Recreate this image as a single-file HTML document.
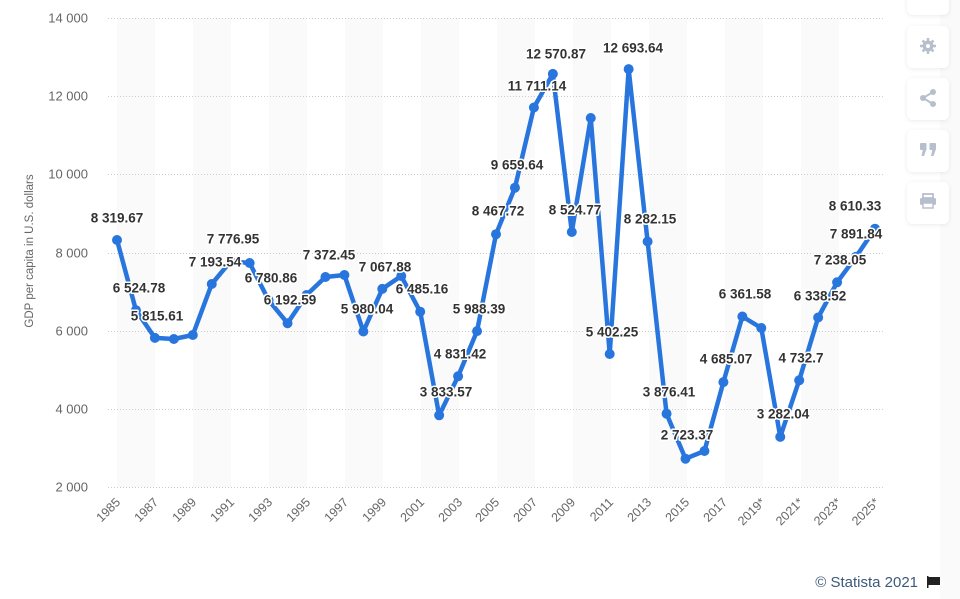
<!DOCTYPE html>
<html><head><meta charset="utf-8"><style>
html,body{margin:0;padding:0;background:#fff;width:960px;height:599px;overflow:hidden}
svg{display:block;font-family:"Liberation Sans",Arial,sans-serif}
.lb{font-size:13.5px;font-weight:bold;fill:#333;stroke:#fff;stroke-width:3px;paint-order:stroke;stroke-linejoin:round;text-anchor:middle;dominant-baseline:central}
.yt{font-size:13px;fill:#666;text-anchor:end;dominant-baseline:central}
.xt{font-size:12.5px;fill:#666;text-anchor:end}
</style></head><body>
<svg width="960" height="599" viewBox="0 0 960 599">
<rect x="940" y="0" width="20" height="599" fill="#fafafb"/>
<g fill="#fafafa">
<rect x="117" y="18" width="38" height="469"/><rect x="193" y="18" width="38" height="469"/><rect x="269" y="18" width="38" height="469"/><rect x="345" y="18" width="38" height="469"/><rect x="421" y="18" width="38" height="469"/><rect x="497" y="18" width="38" height="469"/><rect x="573" y="18" width="38" height="469"/><rect x="649" y="18" width="38" height="469"/><rect x="725" y="18" width="38" height="469"/><rect x="801" y="18" width="38" height="469"/>
</g>
<g stroke="#ccc" stroke-width="1" stroke-dasharray="1,2">
<line x1="108" x2="885" y1="18.5" y2="18.5"/><line x1="108" x2="885" y1="96.5" y2="96.5"/><line x1="108" x2="885" y1="174.5" y2="174.5"/><line x1="108" x2="885" y1="253.5" y2="253.5"/><line x1="108" x2="885" y1="331.5" y2="331.5"/><line x1="108" x2="885" y1="409.5" y2="409.5"/><line x1="108" x2="885" y1="487.5" y2="487.5"/>
</g>
<g class="yt">
<text x="88" y="18">14 000</text><text x="88" y="96">12 000</text><text x="88" y="174">10 000</text><text x="88" y="253">8 000</text><text x="88" y="331">6 000</text><text x="88" y="409">4 000</text><text x="88" y="487">2 000</text>
</g>
<text transform="translate(33,251) rotate(-90)" font-size="11.5" fill="#666" text-anchor="middle">GDP per capita in U.S. dollars</text>
<g class="xt">
<text transform="translate(121,503) rotate(-45)">1985</text>
<text transform="translate(159,503) rotate(-45)">1987</text>
<text transform="translate(197,503) rotate(-45)">1989</text>
<text transform="translate(235,503) rotate(-45)">1991</text>
<text transform="translate(273,503) rotate(-45)">1993</text>
<text transform="translate(311,503) rotate(-45)">1995</text>
<text transform="translate(349,503) rotate(-45)">1997</text>
<text transform="translate(387,503) rotate(-45)">1999</text>
<text transform="translate(425,503) rotate(-45)">2001</text>
<text transform="translate(463,503) rotate(-45)">2003</text>
<text transform="translate(500,503) rotate(-45)">2005</text>
<text transform="translate(538,503) rotate(-45)">2007</text>
<text transform="translate(576,503) rotate(-45)">2009</text>
<text transform="translate(614,503) rotate(-45)">2011</text>
<text transform="translate(652,503) rotate(-45)">2013</text>
<text transform="translate(690,503) rotate(-45)">2015</text>
<text transform="translate(728,503) rotate(-45)">2017</text>
<text transform="translate(766,503) rotate(-45)">2019*</text>
<text transform="translate(804,503) rotate(-45)">2021*</text>
<text transform="translate(842,503) rotate(-45)">2023*</text>
<text transform="translate(880,503) rotate(-45)">2025*</text>
</g>
<polyline fill="none" stroke="#2876dd" stroke-width="4.5" stroke-linejoin="round" points="117,240 135.95,310.2 154.9,337.9 173.85,339 192.8,335 211.75,284 230.7,261.2 249.65,263 268.6,300.2 287.55,323.2 306.5,295 325.45,277 344.4,275 363.35,331.5 382.3,288.9 401.25,276 420.2,311.7 439.15,415.3 458.1,376.3 477.05,331.1 496,234.2 514.95,187.7 533.9,107.5 552.85,73.9 571.8,232 590.75,118 609.7,354 628.65,69.1 647.6,241.5 666.55,413.7 685.5,458.7 704.45,451 723.4,382.1 742.35,316.5 761.3,328 780.25,436.9 799.2,380.3 818.15,317.5 837.1,282.3 856.05,256.7 875,228.7"/>
<g fill="#2876dd">
<circle cx="117" cy="240" r="5"/><circle cx="135.95" cy="310.2" r="5"/><circle cx="154.9" cy="337.9" r="5"/><circle cx="173.85" cy="339" r="5"/><circle cx="192.8" cy="335" r="5"/><circle cx="211.75" cy="284" r="5"/><circle cx="230.7" cy="261.2" r="5"/><circle cx="249.65" cy="263" r="5"/><circle cx="268.6" cy="300.2" r="5"/><circle cx="287.55" cy="323.2" r="5"/><circle cx="306.5" cy="295" r="5"/><circle cx="325.45" cy="277" r="5"/><circle cx="344.4" cy="275" r="5"/><circle cx="363.35" cy="331.5" r="5"/><circle cx="382.3" cy="288.9" r="5"/><circle cx="401.25" cy="276" r="5"/><circle cx="420.2" cy="311.7" r="5"/><circle cx="439.15" cy="415.3" r="5"/><circle cx="458.1" cy="376.3" r="5"/><circle cx="477.05" cy="331.1" r="5"/><circle cx="496" cy="234.2" r="5"/><circle cx="514.95" cy="187.7" r="5"/><circle cx="533.9" cy="107.5" r="5"/><circle cx="552.85" cy="73.9" r="5"/><circle cx="571.8" cy="232" r="5"/><circle cx="590.75" cy="118" r="5"/><circle cx="609.7" cy="354" r="5"/><circle cx="628.65" cy="69.1" r="5"/><circle cx="647.6" cy="241.5" r="5"/><circle cx="666.55" cy="413.7" r="5"/><circle cx="685.5" cy="458.7" r="5"/><circle cx="704.45" cy="451" r="5"/><circle cx="723.4" cy="382.1" r="5"/><circle cx="742.35" cy="316.5" r="5"/><circle cx="761.3" cy="328" r="5"/><circle cx="780.25" cy="436.9" r="5"/><circle cx="799.2" cy="380.3" r="5"/><circle cx="818.15" cy="317.5" r="5"/><circle cx="837.1" cy="282.3" r="5"/><circle cx="856.05" cy="256.7" r="5"/><circle cx="875" cy="228.7" r="5"/>
</g>
<g class="lb">
<text x="117" y="218">8 319.67</text>
<text x="139" y="288">6 524.78</text>
<text x="157" y="316">5 815.61</text>
<text x="215" y="262">7 193.54</text>
<text x="233" y="239">7 776.95</text>
<text x="271" y="278">6 780.86</text>
<text x="290" y="300">6 192.59</text>
<text x="329" y="255">7 372.45</text>
<text x="367" y="309">5 980.04</text>
<text x="385" y="267">7 067.88</text>
<text x="422" y="289">6 485.16</text>
<text x="446" y="392">3 833.57</text>
<text x="460" y="354">4 831.42</text>
<text x="479" y="309">5 988.39</text>
<text x="498" y="211">8 467.72</text>
<text x="517" y="165">9 659.64</text>
<text x="537" y="86">11 711.14</text>
<text x="556" y="54">12 570.87</text>
<text x="575" y="210">8 524.77</text>
<text x="612" y="332">5 402.25</text>
<text x="633" y="48">12 693.64</text>
<text x="650" y="219">8 282.15</text>
<text x="669" y="392">3 876.41</text>
<text x="687" y="435">2 723.37</text>
<text x="726" y="359">4 685.07</text>
<text x="745" y="294">6 361.58</text>
<text x="783" y="414">3 282.04</text>
<text x="801" y="358">4 732.7</text>
<text x="820" y="296">6 338.52</text>
<text x="840" y="260">7 238.05</text>
<text x="856" y="234">7 891.84</text>
<text x="855" y="206">8 610.33</text>
</g>
<defs><filter id="sh" x="-30%" y="-30%" width="160%" height="160%"><feDropShadow dx="0" dy="1" stdDeviation="2" flood-color="#000" flood-opacity="0.08"/></filter></defs>
<g fill="#fff" filter="url(#sh)">
<rect x="907" y="-27" width="42" height="42" rx="6"/>
<rect x="907" y="26" width="42" height="42" rx="6"/>
<rect x="907" y="78" width="42" height="42" rx="6"/>
<rect x="907" y="130" width="42" height="42" rx="6"/>
<rect x="907" y="182" width="42" height="42" rx="6"/>
</g>
<g fill="#b8bfcc" stroke="none">
<circle cx="928" cy="46" r="5.5"/>
<g stroke="#b8bfcc" stroke-width="2.5"><line x1="928" y1="38" x2="928" y2="54"/><line x1="920" y1="46" x2="936" y2="46"/><line x1="922.5" y1="40.5" x2="933.5" y2="51.5"/><line x1="933.5" y1="40.5" x2="922.5" y2="51.5"/></g>
<circle cx="928" cy="46" r="2" fill="#fff"/>
<circle cx="933" cy="92" r="3"/><circle cx="923" cy="98" r="3"/><circle cx="933" cy="104" r="3"/>
<path d="M933 92 L923 98 L933 104" stroke="#b8bfcc" stroke-width="2" fill="none"/>
<rect x="920" y="143" width="6.5" height="7" rx="1"/><rect x="929.5" y="143" width="6.5" height="7" rx="1"/>
<path d="M923 149 L926.5 149 L924 156 L921.5 156 Z"/><path d="M932.5 149 L936 149 L933.5 156 L931 156 Z"/>
<rect x="923" y="194" width="10" height="4" fill="none" stroke="#b8bfcc" stroke-width="1.8"/>
<rect x="920" y="198" width="16" height="7" rx="1.5"/>
<rect x="923" y="203" width="10" height="5" fill="#fff" stroke="#b8bfcc" stroke-width="1.5"/>
</g>
<text x="918" y="587" text-anchor="end" font-size="15" fill="#3d5a78">© Statista 2021</text>
<rect x="927" y="576" width="1.5" height="12" fill="#222"/>
<path d="M928.5 577 L940 577 L940 585 L928.5 585 Z" fill="#222"/>
</svg>
</body></html>
